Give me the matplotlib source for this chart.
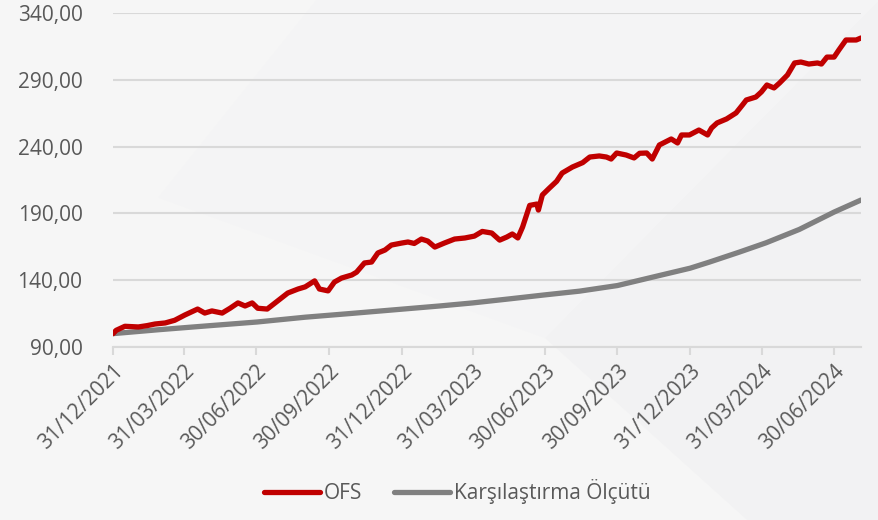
import pandas as pd
import numpy as np
import matplotlib
matplotlib.use('Agg')
import matplotlib.pyplot as plt
import matplotlib.dates as mdates
import matplotlib.ticker as ticker
from matplotlib.patches import Polygon

plt.rcParams['font.family'] = ['Open Sans', 'DejaVu Sans']

# OFS fund price index
ofs_dates = ['2021-12-31', '2022-01-04', '2022-01-15', '2022-02-01', '2022-02-12', '2022-02-22',
             '2022-03-07', '2022-03-19', '2022-04-01', '2022-04-17', '2022-04-26', '2022-05-05',
             '2022-05-18', '2022-05-28', '2022-06-07', '2022-06-16', '2022-06-25', '2022-07-02',
             '2022-07-14', '2022-07-24', '2022-08-09', '2022-08-22', '2022-08-31', '2022-09-12',
             '2022-09-18', '2022-09-29', '2022-10-07', '2022-10-16', '2022-10-29', '2022-11-04',
             '2022-11-14', '2022-11-23', '2022-12-01', '2022-12-10', '2022-12-18', '2022-12-31',
             '2023-01-08', '2023-01-16', '2023-01-25', '2023-02-02', '2023-02-11', '2023-02-23',
             '2023-03-08', '2023-03-21', '2023-04-02', '2023-04-12', '2023-04-24', '2023-05-04',
             '2023-05-13', '2023-05-20', '2023-05-27', '2023-06-02', '2023-06-11', '2023-06-20',
             '2023-06-22', '2023-06-27', '2023-07-06', '2023-07-15', '2023-07-22', '2023-08-04',
             '2023-08-17', '2023-08-26', '2023-09-07', '2023-09-16', '2023-09-22', '2023-09-29',
             '2023-10-11', '2023-10-21', '2023-10-28', '2023-11-06', '2023-11-13', '2023-11-22',
             '2023-12-07', '2023-12-15', '2023-12-20', '2023-12-30', '2024-01-11', '2024-01-22',
             '2024-01-27', '2024-02-03', '2024-02-15', '2024-02-27', '2024-03-06', '2024-03-11',
             '2024-03-23', '2024-03-30', '2024-04-06', '2024-04-15', '2024-04-22', '2024-05-02',
             '2024-05-11', '2024-05-19', '2024-05-29', '2024-06-09', '2024-06-14', '2024-06-21',
             '2024-06-30', '2024-07-06', '2024-07-15', '2024-07-28', '2024-08-03']
ofs_values = [100.0, 102.5, 105.5, 105.0, 106.0, 107.2,
              108.0, 110.0, 114.0, 118.4, 115.4, 117.0,
              115.4, 119.0, 123.0, 120.7, 123.0, 119.0,
              118.4, 123.0, 130.4, 133.4, 135.0, 139.5,
              133.4, 132.0, 138.6, 141.6, 143.9, 146.0,
              152.9, 153.6, 160.4, 162.6, 166.3, 167.8,
              168.6, 167.5, 170.8, 169.3, 164.8, 167.8,
              170.8, 171.6, 173.0, 176.5, 175.3, 170.0,
              172.3, 174.6, 171.6, 179.8, 196.0, 197.0,
              192.5, 203.8, 209.0, 214.0, 220.2, 224.7,
              228.0, 232.2, 233.0, 232.2, 230.7, 235.2,
              233.7, 231.5, 235.0, 235.2, 230.7, 241.2,
              245.7, 242.7, 248.7, 248.7, 252.4, 248.7,
              253.9, 257.7, 260.7, 265.2, 271.1, 274.9,
              277.1, 280.9, 286.1, 283.9, 287.6, 293.6,
              302.6, 303.3, 301.8, 302.6, 301.8, 307.0,
              307.0, 312.3, 319.8, 319.8, 321.3]

# benchmark index
bench_dates = ['2021-12-31', '2022-02-28', '2022-05-03', '2022-07-01', '2022-08-31', '2022-10-26',
               '2022-12-31', '2023-02-17', '2023-03-31', '2023-05-16', '2023-06-30', '2023-08-13',
               '2023-09-30', '2023-11-22', '2023-12-31', '2024-01-24', '2024-03-02', '2024-04-05',
               '2024-05-17', '2024-06-30', '2024-08-03']
bench_values = [100.0, 103.0, 106.0, 108.7, 112.3, 115.0,
                118.3, 120.7, 123.0, 126.0, 129.0, 131.8,
                136.0, 143.5, 149.0, 153.5, 161.0, 168.0,
                178.0, 191.0, 200.0]

tick_dates = ['2021-12-31', '2022-03-31', '2022-06-30', '2022-09-30', '2022-12-31', '2023-03-31',
              '2023-06-30', '2023-09-30', '2023-12-31', '2024-03-31', '2024-06-30']

text_col = '#595959'
grid_col = '#d9d9d9'

fig = plt.figure(figsize=(8.79, 5.2), dpi=100, facecolor='#f6f6f6')
# faint decorative background shapes
fig.patches.append(Polygon([(0.62, 0.35), (1.0, 1.0), (1.0, 0.0), (0.85, 0.0)], closed=True,
                           transform=fig.transFigure, facecolor='#f2f2f3', edgecolor='none', zorder=-2))
fig.patches.append(Polygon([(0.18, 0.62), (0.36, 1.0), (1.0, 1.0), (0.62, 0.35)], closed=True,
                           transform=fig.transFigure, facecolor='#f4f4f5', edgecolor='none', zorder=-2))

ax = fig.add_axes([0.1286, 0.3327, 0.8509, 0.6423])
ax.set_facecolor('none')

ax.plot(pd.to_datetime(ofs_dates), ofs_values, color='#c00000', lw=3.8, label='OFS',
        solid_capstyle='round', solid_joinstyle='round', zorder=3)
ax.plot(pd.to_datetime(bench_dates), bench_values, color='#808080', lw=3.8,
        label='Karşılaştırma Ölçütü', solid_capstyle='round', zorder=2)

ax.set_xlim(pd.Timestamp('2021-12-31'), pd.Timestamp('2024-08-03'))
ax.set_ylim(90, 340)
ax.set_yticks(np.arange(90, 341, 50))
ax.yaxis.set_major_formatter(ticker.FuncFormatter(lambda v, p: f'{v:.2f}'.replace('.', ',')))
ax.set_xticks(pd.to_datetime(tick_dates))
ax.xaxis.set_major_formatter(mdates.DateFormatter('%d/%m/%Y'))

ax.grid(axis='y', color=grid_col, lw=1.5, zorder=0)
for s in ['top', 'right', 'left']:
    ax.spines[s].set_visible(False)
ax.spines['bottom'].set_color(grid_col)
ax.spines['bottom'].set_linewidth(1.5)

ax.tick_params(axis='y', length=0, pad=22, labelsize=15, labelcolor=text_col)
ax.tick_params(axis='x', length=6, width=1.5, color=grid_col, pad=4, labelsize=15, labelcolor=text_col)
for lab in ax.get_xticklabels():
    lab.set_rotation(45)
    lab.set_ha('right')
    lab.set_va('top')
    lab.set_rotation_mode('anchor')

fig.legend(loc='lower center', bbox_to_anchor=(0.52, -0.005), ncol=2, frameon=False,
           fontsize=15, labelcolor=text_col, handlelength=2.7, handletextpad=0.2, columnspacing=1.5)

fig.savefig('out.png', dpi=100, facecolor=fig.get_facecolor())
